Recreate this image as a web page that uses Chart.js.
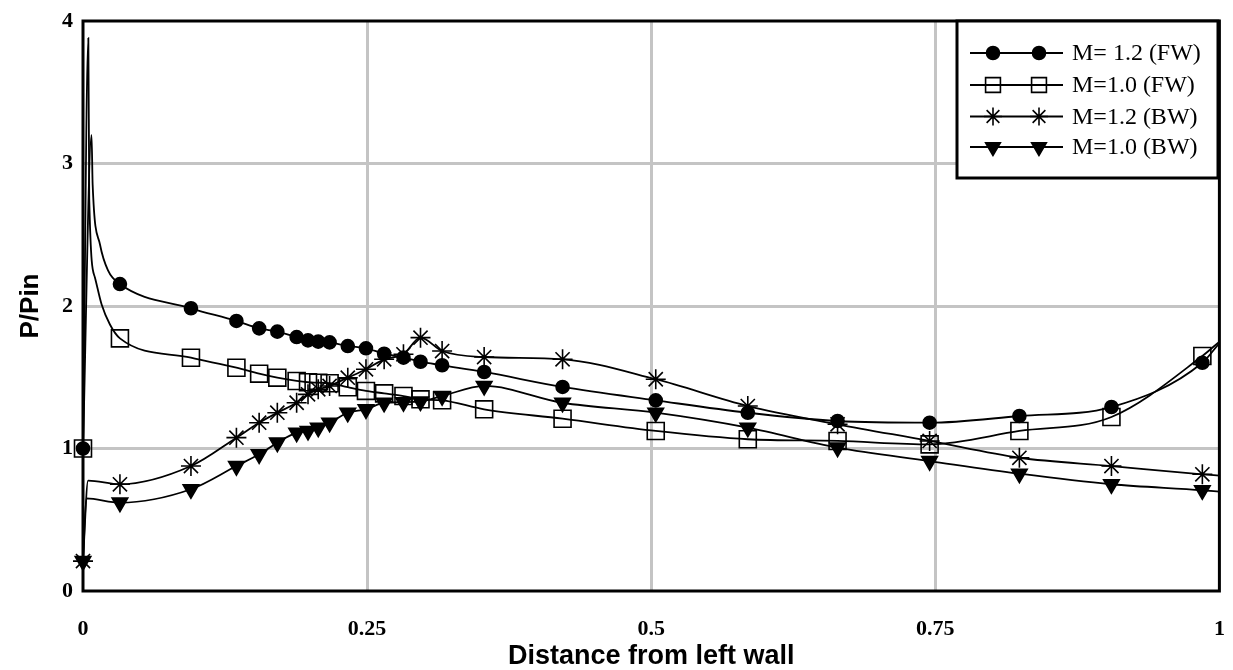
<!DOCTYPE html>
<html>
<head>
<meta charset="utf-8">
<script src="https://cdn.jsdelivr.net/npm/chart.js@4.4.1/dist/chart.umd.min.js"></script>
<style>
  html, body { margin: 0; padding: 0; background: #ffffff; }
  canvas { display: block; }
</style>
</head>
<body>
<canvas id="chart" width="1233" height="670"></canvas>
<script>
// Measuring stations along the duct (distance from left wall, normalised)
const stations = [0, 0.0325, 0.095, 0.135, 0.155, 0.171, 0.188, 0.198, 0.207, 0.217,
                  0.233, 0.249, 0.265, 0.282, 0.297, 0.316, 0.353, 0.422, 0.504, 0.585,
                  0.664, 0.745, 0.824, 0.905, 0.985];

// P/Pin at each station
const m12FW = [1.00, 2.154, 1.984, 1.895, 1.843, 1.820, 1.782, 1.759, 1.750, 1.745,
               1.719, 1.703, 1.665, 1.638, 1.609, 1.584, 1.537, 1.432, 1.338, 1.251,
               1.193, 1.181, 1.228, 1.291, 1.602];
const m10FW = [1.00, 1.773, 1.637, 1.567, 1.525, 1.497, 1.474, 1.465, 1.462, 1.458,
               1.430, 1.404, 1.387, 1.368, 1.345, 1.338, 1.275, 1.209, 1.123, 1.065,
               1.053, 1.029, 1.123, 1.221, 1.649];
const m12BW = [0.21, 0.749, 0.877, 1.076, 1.181, 1.251, 1.321, 1.380, 1.415, 1.439,
               1.497, 1.556, 1.626, 1.661, 1.778, 1.684, 1.642, 1.626, 1.486, 1.298,
               1.170, 1.053, 0.935, 0.877, 0.819];
const m10BW = [0.21, 0.620, 0.714, 0.877, 0.959, 1.041, 1.111, 1.123, 1.146, 1.181,
               1.251, 1.275, 1.321, 1.325, 1.330, 1.368, 1.439, 1.321, 1.251, 1.146,
               1.006, 0.912, 0.823, 0.749, 0.707];

// Curve-only values (no marker): reflection peak next to the wall and the value at x = 1
const m12FWCurve = [[0.0075, 3.20], [0.0085, 2.85], [0.015, 2.43], [0.022, 2.25], [1, 1.74]];
const m10FWCurve = [[0.0047, 3.88], [0.0055, 2.75], [0.0105, 2.20], [0.0164, 2.01], [0.0237, 1.87], [1, 1.75]];
const m12BWCurve = [[0.0045, 0.775], [1, 0.81]];
const m10BWCurve = [[0.003, 0.650], [1, 0.697]];

const seriesLabels = ['M= 1.2 (FW)', 'M=1.0 (FW)', 'M=1.2 (BW)', 'M=1.0 (BW)'];
const xTickValues = [0, 0.25, 0.5, 0.75, 1];
const yTickValues = [0, 1, 2, 3, 4];

// Marker look for each series
const markers = [
  { style: 'circle',   radius: 6.5, legendRadius: 6.5, fill: '#000000', rotation: 0 },
  { style: 'rect',     radius: 12,  legendRadius: 10.5, fill: 'rgba(0,0,0,0)', rotation: 0 },
  { style: 'star',     radius: 10,  legendRadius: 9,   fill: 'rgba(0,0,0,0)', rotation: 0 },
  { style: 'triangle', radius: 9,   legendRadius: 8.5, fill: '#000000', rotation: 180 }
];

function buildSeries(values, curve) {
  const pts = stations.map((x, i) => ({ x: x, y: values[i], m: true }));
  curve.forEach(p => pts.push({ x: p[0], y: p[1], m: false }));
  pts.sort((a, b) => a.x - b.x);
  return pts;
}

const seriesData = [
  buildSeries(m12FW, m12FWCurve),
  buildSeries(m10FW, m10FWCurve),
  buildSeries(m12BW, m12BWCurve),
  buildSeries(m10BW, m10BWCurve)
];

const datasets = seriesData.map((pts, i) => {
  const mk = markers[i];
  return {
    label: seriesLabels[i],
    data: pts,
    borderColor: '#000000',
    borderWidth: 1.8,
    fill: false,
    cubicInterpolationMode: 'monotone',
    pointStyle: mk.style,
    pointRotation: mk.rotation,
    pointRadius: ctx => (ctx.raw && ctx.raw.m) ? mk.radius : 0,
    pointBackgroundColor: mk.fill,
    pointBorderColor: '#000000',
    pointBorderWidth: 1.6,
    clip: false
  };
});

// Plot frame drawn beneath the curves
const framePlugin = {
  id: 'frame',
  beforeDatasetsDraw(chart) {
    const { ctx, chartArea: a } = chart;
    ctx.save();
    ctx.strokeStyle = '#000000';
    ctx.lineWidth = 3;
    ctx.strokeRect(a.left, a.top, a.right - a.left, a.bottom - a.top);
    ctx.restore();
  }
};

// Boxed legend in the upper right corner
const legendPlugin = {
  id: 'boxLegend',
  afterDraw(chart) {
    const ctx = chart.ctx;
    const box = { left: 957, top: 21, right: 1218, bottom: 178 };
    ctx.save();
    ctx.fillStyle = '#ffffff';
    ctx.fillRect(box.left, box.top, box.right - box.left, box.bottom - box.top);
    ctx.strokeStyle = '#000000';
    ctx.lineWidth = 3;
    ctx.strokeRect(box.left, box.top, box.right - box.left, box.bottom - box.top);
    const rows = [53, 85, 116.5, 147];
    seriesLabels.forEach((label, i) => {
      const y = rows[i];
      const mk = markers[i];
      ctx.strokeStyle = '#000000';
      ctx.lineWidth = 1.8;
      ctx.beginPath();
      ctx.moveTo(970, y);
      ctx.lineTo(1063, y);
      ctx.stroke();
      [993, 1039].forEach(mx => {
        ctx.fillStyle = mk.fill;
        ctx.strokeStyle = '#000000';
        ctx.lineWidth = 1.6;
        Chart.helpers.drawPoint(ctx, {
          pointStyle: mk.style, rotation: mk.rotation,
          radius: mk.legendRadius, borderWidth: 1.6
        }, mx, y);
      });
      ctx.fillStyle = '#000000';
      ctx.font = '24px "Liberation Serif"';
      ctx.textAlign = 'left';
      ctx.textBaseline = 'middle';
      ctx.fillText(label, 1072, y + 1);
    });
    ctx.restore();
  }
};

new Chart(document.getElementById('chart'), {
  type: 'line',
  data: { datasets: datasets },
  options: {
    responsive: false,
    animation: false,
    devicePixelRatio: 1,
    events: [],
    layout: { padding: { top: 21, right: 10, left: 0, bottom: 0 } },
    plugins: { legend: { display: false }, tooltip: { enabled: false } },
    scales: {
      x: {
        type: 'linear',
        min: 0, max: 1,
        afterBuildTicks: s => { s.ticks = xTickValues.map(v => ({ value: v })); },
        afterFit: s => { s.height = 79; s.paddingLeft = 0; s.paddingRight = 0; },
        border: { display: false },
        grid: {
          drawTicks: false,
          lineWidth: 3,
          color: ctx => (ctx.tick && (ctx.tick.value === 0 || ctx.tick.value === 1)) ? 'rgba(0,0,0,0)' : '#c4c4c4'
        },
        ticks: {
          padding: 25,
          color: '#000000',
          font: { family: 'Liberation Serif', size: 22, weight: 'bold' },
          callback: v => String(v),
          maxRotation: 0
        },
        title: {
          display: true,
          text: 'Distance from left wall',
          color: '#000000',
          font: { family: 'Liberation Sans', size: 27, weight: 'bold', lineHeight: 1.0 },
          padding: { top: 0, bottom: 0 }
        }
      },
      y: {
        type: 'linear',
        min: 0, max: 4,
        afterBuildTicks: s => { s.ticks = yTickValues.map(v => ({ value: v })); },
        afterFit: s => { s.width = 83; s.paddingTop = 0; s.paddingBottom = 0; },
        border: { display: false },
        grid: {
          drawTicks: false,
          lineWidth: 3,
          color: ctx => (ctx.tick && (ctx.tick.value === 0 || ctx.tick.value === 4)) ? 'rgba(0,0,0,0)' : '#c4c4c4'
        },
        ticks: {
          padding: 10,
          color: '#000000',
          font: { family: 'Liberation Serif', size: 22, weight: 'bold' },
          callback: v => String(v)
        },
        title: {
          display: true,
          text: 'P/Pin',
          color: '#000000',
          font: { family: 'Liberation Sans', size: 26, weight: 'bold', lineHeight: 1.0 },
          padding: { top: 18, bottom: 0 }
        }
      }
    }
  },
  plugins: [framePlugin, legendPlugin]
});
</script>
</body>
</html>
